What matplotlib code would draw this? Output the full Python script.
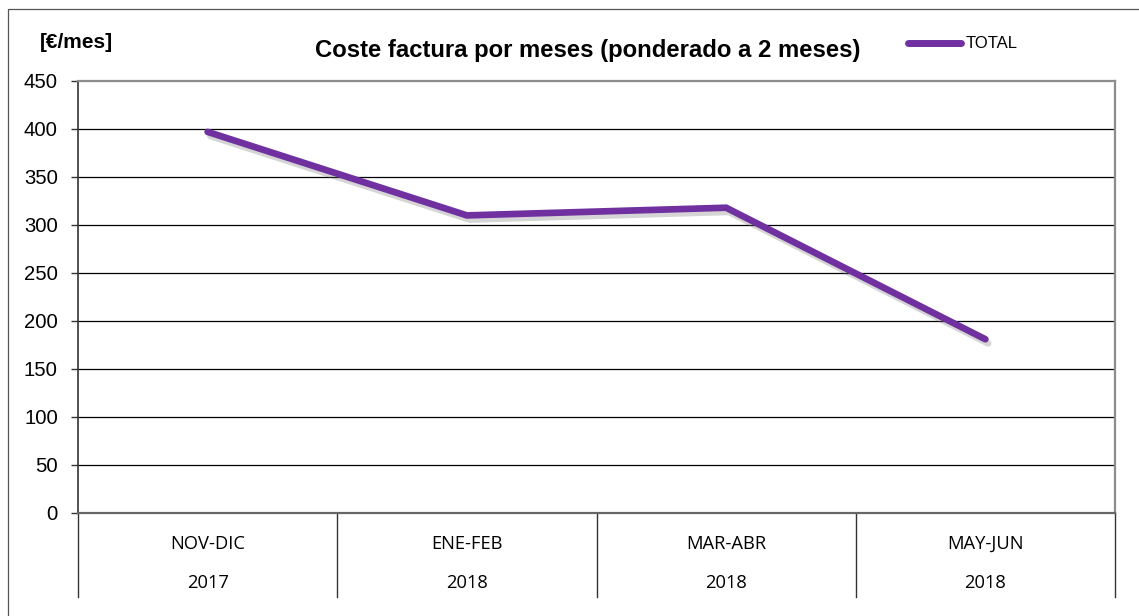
import matplotlib
matplotlib.use("Agg")
import matplotlib.pyplot as plt
import matplotlib.patheffects as pe
from matplotlib.patches import Rectangle
from matplotlib.lines import Line2D
from matplotlib.transforms import blended_transform_factory

periodos = ["NOV-DIC", "ENE-FEB", "MAR-ABR", "MAY-JUN"]
anios = ["2017", "2018", "2018", "2018"]
total = [397, 310, 318, 181]
yticks = [0, 50, 100, 150, 200, 250, 300, 350, 400, 450]

W, H = 1139, 616
fig = plt.figure(figsize=(W / 100, H / 100), dpi=100)
fig.patch.set_facecolor("white")

# outer chart frame (runs off the right and bottom edges)
fig.patches.append(Rectangle((8 / W, -0.05), 1.2, 1 - 9 / H + 0.05,
                             transform=fig.transFigure, fill=False,
                             edgecolor="#555555", lw=0.9))

ax = fig.add_axes([78 / W, (H - 513) / H, (1115 - 78) / W, (513 - 81) / H])
ax.set_xlim(-0.5, len(periodos) - 0.5)
ax.set_ylim(0, 450)
ax.set_yticks(yticks)
ax.set_yticklabels([str(v) for v in yticks], fontsize=14.6, family="Liberation Sans")
ax.set_xticks([])
ax.tick_params(axis="y", direction="out", length=5, width=1, color="#333333", pad=9.5)
for v in yticks[1:-1]:
    ax.axhline(v, color="black", lw=0.9, zorder=1)

for s in ["top", "right"]:
    ax.spines[s].set_color("#8c8c8c")
    ax.spines[s].set_linewidth(1.6)
ax.spines["left"].set_color("#333333")
ax.spines["left"].set_linewidth(1.2)
ax.spines["bottom"].set_color("#666666")
ax.spines["bottom"].set_linewidth(1.6)

x = list(range(len(periodos)))
ax.plot(x, total, color="#7030A0", lw=4.8, solid_capstyle="round",
        solid_joinstyle="miter", zorder=3,
        path_effects=[pe.SimpleLineShadow(offset=(2, -3), shadow_color="#777777", alpha=0.3),
                      pe.Normal()])

# category axis: dividers plus two label rows
trans = blended_transform_factory(ax.transData, ax.transAxes)
low = -(597 - 513) / (513 - 81)
for i in range(len(periodos) + 1):
    ax.plot([i - 0.5, i - 0.5], [0, low], transform=trans, color="#333333",
            lw=1.0, clip_on=False)
for i, (p, a) in enumerate(zip(periodos, anios)):
    ax.text(i, -(544 - 513) / (513 - 81), p, transform=trans, ha="center", va="center",
            fontsize=13.2, family="Open Sans")
    ax.text(i, -(583 - 513) / (513 - 81), a, transform=trans, ha="center", va="center",
            fontsize=13.2, family="Open Sans")

fig.text(588 / W, 1 - 50 / H, "Coste factura por meses (ponderado a 2 meses)",
         ha="center", va="center", fontsize=17.2, fontweight="bold", family="Liberation Sans")
fig.text(76 / W, 1 - 43 / H, "[€/mes]", ha="center", va="center",
         fontsize=15, fontweight="bold", family="Liberation Sans")

handle = Line2D([], [], color="#7030A0", lw=5, solid_capstyle="round")
ax.legend([handle], ["TOTAL"], loc="center left", bbox_to_anchor=(908 / W, 1 - 44 / H),
          bbox_transform=fig.transFigure, frameon=False, handlelength=3.2,
          handletextpad=0.25, borderpad=0, borderaxespad=0,
          prop={"family": "Liberation Sans", "size": 12})

fig.savefig("out.png", dpi=100, facecolor="white")
